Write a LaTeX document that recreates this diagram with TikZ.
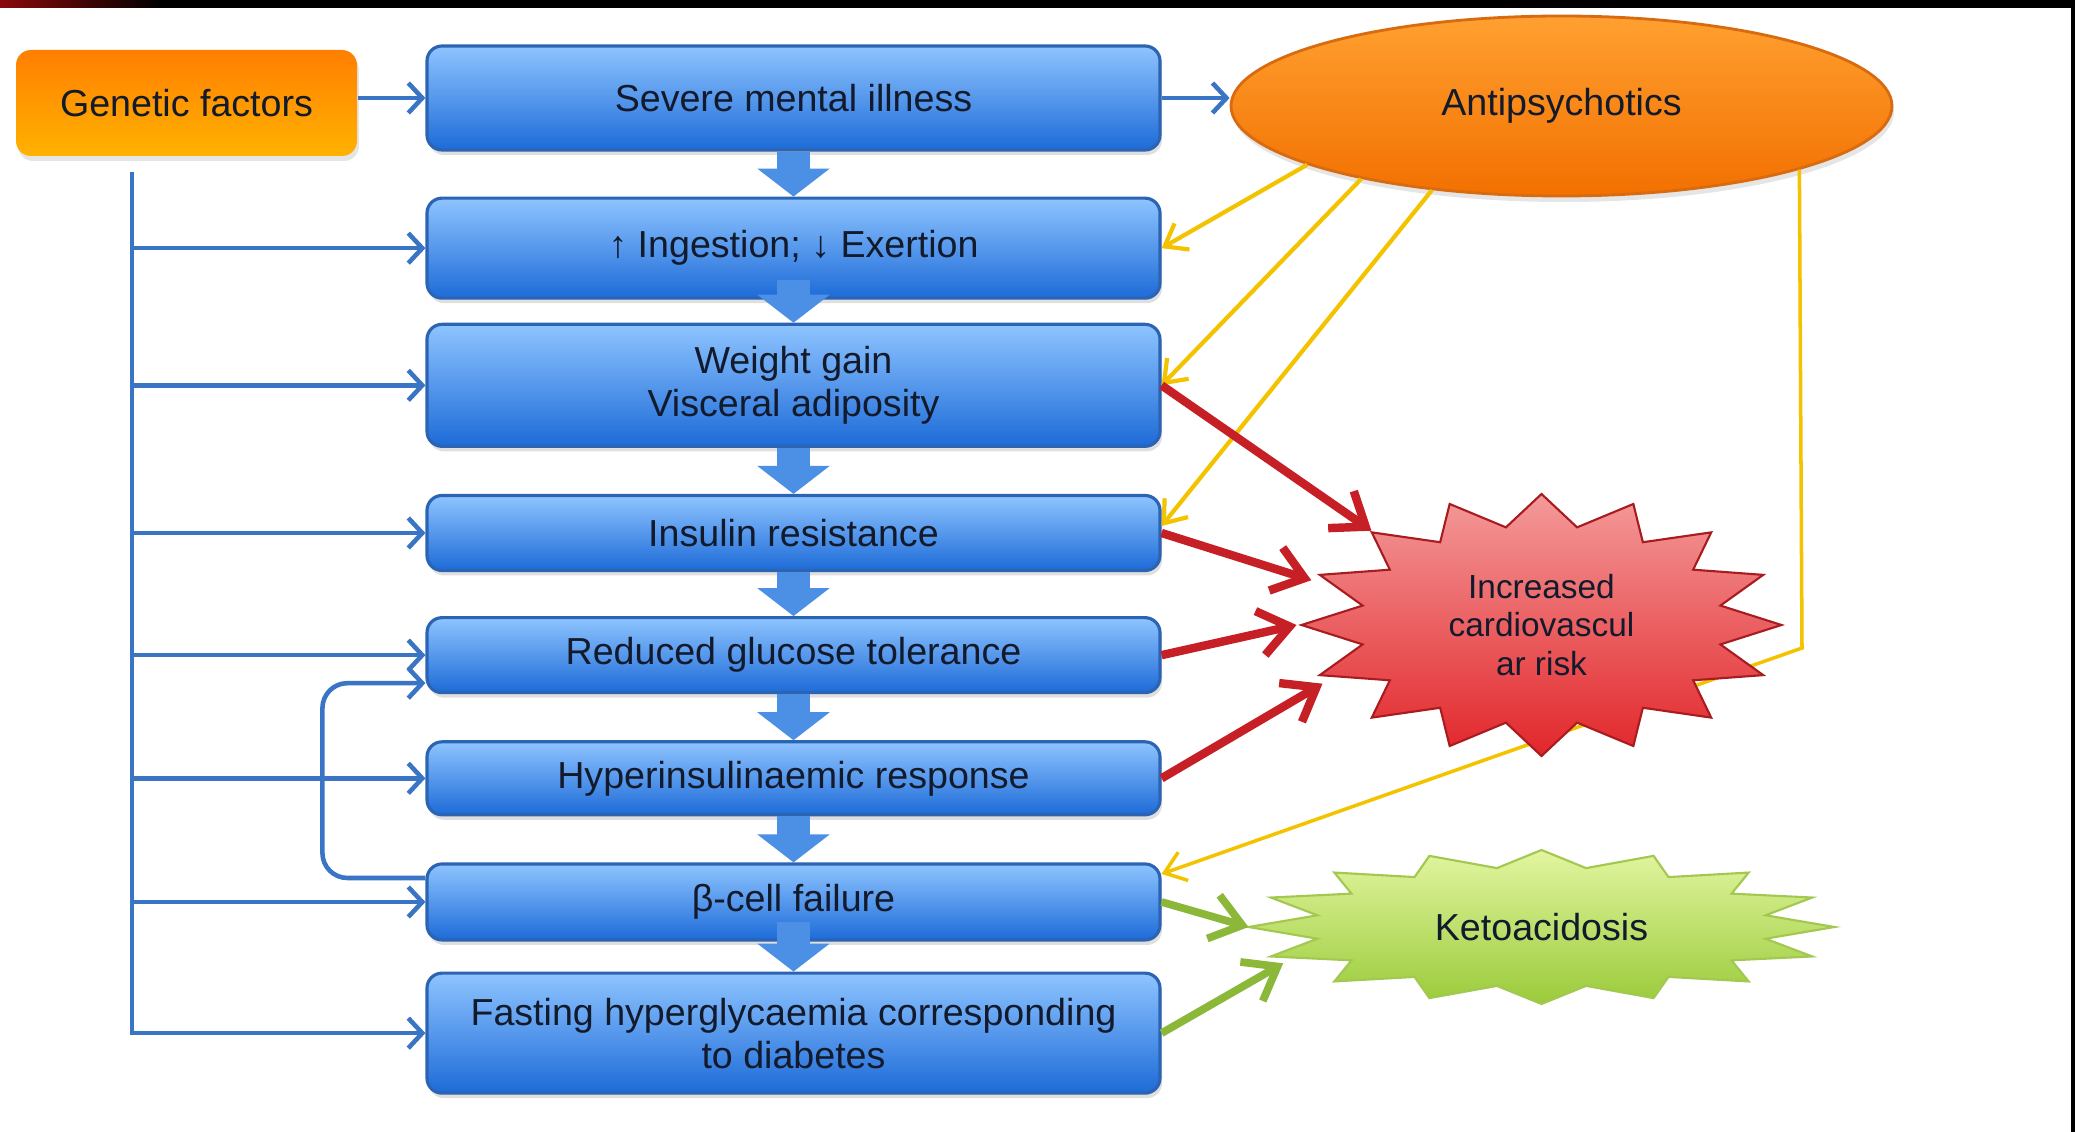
\documentclass[tikz,border=0pt]{standalone}
\usepackage{fontspec}
\setmainfont{Liberation Sans}
\usetikzlibrary{arrows.meta, positioning, shapes.geometric, shadows}

\definecolor{boxtop}{HTML}{8EC4FF}
\definecolor{boxbot}{HTML}{1D6BD8}
\definecolor{boxline}{HTML}{2C64B4}
\definecolor{linkblue}{HTML}{3A74C4}
\definecolor{blockblue}{HTML}{4C90E6}
\definecolor{gentop}{HTML}{FF7F00}
\definecolor{genbot}{HTML}{FFB200}
\definecolor{anttop}{HTML}{FFA030}
\definecolor{antbot}{HTML}{F27000}
\definecolor{antline}{HTML}{D86A10}
\definecolor{linkyellow}{HTML}{F4C300}
\definecolor{linkred}{HTML}{C62026}
\definecolor{linkgreen}{HTML}{8CB83A}
\definecolor{redtop}{HTML}{F49A9A}
\definecolor{redbot}{HTML}{E2262A}
\definecolor{redline}{HTML}{A81C20}
\definecolor{greentop}{HTML}{E2F5A0}
\definecolor{greenbot}{HTML}{9ACB3A}
\definecolor{greenline}{HTML}{A2C850}
\definecolor{inktext}{HTML}{121A2C}
\definecolor{darkred}{HTML}{8A0A0A}

\begin{document}
\begin{tikzpicture}[node distance=0.45cm, font=\fontsize{10.7}{12.2}\selectfont, text=inktext,
  stepbox/.style={draw=boxline, line width=0.9pt, rounded corners=0.15cm, top color=boxtop, bottom color=boxbot,
    minimum width=7.33cm, align=center, drop shadow={opacity=0.25, shadow xshift=0.02cm, shadow yshift=-0.05cm}},
  genbox/.style={rounded corners=0.15cm, top color=gentop, bottom color=genbot, minimum width=3.41cm, minimum height=1.06cm,
    drop shadow={opacity=0.2, shadow xshift=0.02cm, shadow yshift=-0.05cm}},
  flowarrow/.style={draw=blockblue, line width=0.33cm, -{Triangle[length=0.28cm, width=0.71cm]}},
  genlink/.style={draw=linkblue, line width=1.3pt, -{Straight Barb[length=0.14cm, width=0.3cm]}},
  drugline/.style={draw=linkyellow, line width=1.2pt, -{Straight Barb[length=0.2cm, width=0.3cm]}},
  riskline/.style={draw=linkred, line width=2.4pt, -{Straight Barb[length=0.3cm, width=0.45cm]}},
  ketoline/.style={draw=linkgreen, line width=2.2pt, -{Straight Barb[length=0.3cm, width=0.45cm]}},
  burst/.style={ellipse, minimum width=#1, inner sep=0pt, outer sep=0pt, align=center}]

\useasboundingbox (0,0) rectangle (20.75,-11.32);
\fill[white] (0,0) rectangle (20.75,-11.32);
\fill[black] (0,0) rectangle (20.75,-0.08);
\shade[left color=darkred, right color=black] (0,0) rectangle (1.6,-0.08);
\fill[black] (20.71,0) rectangle (20.75,-11.32);

\node[stepbox, minimum height=1.04cm] (b1) at (7.935,-0.98) {Severe mental illness};
\node[stepbox, minimum height=1.0cm, below=0.45cm of b1] (b2) {↑ Ingestion; ↓ Exertion};
\node[stepbox, minimum height=1.22cm, below=0.23cm of b2] (b3) {Weight gain\\Visceral adiposity};
\node[stepbox, minimum height=0.75cm, below=0.46cm of b3] (b4) {Insulin resistance};
\node[stepbox, minimum height=0.75cm, below=0.44cm of b4] (b5) {Reduced glucose tolerance};
\node[stepbox, minimum height=0.73cm, below=0.46cm of b5] (b6) {Hyperinsulinaemic response};
\node[stepbox, minimum height=0.76cm, below=0.46cm of b6] (b7) {β-cell failure};
\node[stepbox, minimum height=1.2cm, below=0.30cm of b7] (b8) {Fasting hyperglycaemia corresponding\\to diabetes};

\node[genbox] (gen) at (1.865,-1.03) {Genetic factors};
\node[ellipse, draw=antline, line width=0.8pt, top color=anttop, bottom color=antbot, minimum width=6.61cm, minimum height=1.8cm,
  drop shadow={opacity=0.2, shadow xshift=0.02cm, shadow yshift=-0.06cm}] (ant) at (15.615,-1.06) {Antipsychotics};

\draw[genlink] (gen.east |- b1.west) -- (b1.west);
\draw[genlink] (b1.east) -- (b1.east -| ant.west);
\coordinate (trunk) at (1.32,-1.72);
\draw[genlink] (trunk) |- (b8.west);
\foreach \k in {2,...,7}
  \draw[genlink] (trunk |- b\k.west) -- (b\k.west);
\draw[genlink, rounded corners=0.25cm] ([yshift=0.24cm]b7.west) -| ([xshift=-1.03cm, yshift=-0.28cm]b5.west) -- ([yshift=-0.28cm]b5.west);

\draw[flowarrow] (b1.south) -- (b2.north);
\draw[flowarrow] ([yshift=0.2cm]b2.south) -- (b3.north);
\foreach \k/\n in {3/4,4/5,5/6,6/7}
  \draw[flowarrow] (b\k.south) -- (b\n.north);
\draw[flowarrow] ([yshift=0.2cm]b7.south) -- (b8.north);

\draw[drugline] (ant.193) -- (b2.east);
\draw[drugline] (ant.200) -- (b3.east);
\draw[drugline] (ant.213) -- ([yshift=0.07cm]b4.east);
\coordinate (bend) at (18.02,-6.48);
\draw[drugline, line width=1pt] (ant.345) -- (bend) -- ([yshift=0.28cm]b7.east);

\coordinate (cvdc) at (15.415,-6.25);
\coordinate (ketoc) at (15.415,-9.27);
\begin{scope}[shift={(cvdc)}]
  \shadedraw[top color=redtop, bottom color=redbot, draw=redline, line width=0.6pt]
    plot[samples at={0,...,31}, variable=\k] ({2.40*(1-0.24*mod(\k,2))*cos(90+11.25*\k)}, {1.31*(1-0.24*mod(\k,2))*sin(90+11.25*\k)}) -- cycle;
\end{scope}
\begin{scope}[shift={(ketoc)}]
  \shadedraw[top color=greentop, bottom color=greenbot, draw=greenline, line width=0.6pt]
    plot[samples at={0,...,31}, variable=\k] ({2.93*(1-0.22*mod(\k,2))*cos(90+11.25*\k)}, {0.77*(1-0.22*mod(\k,2))*sin(90+11.25*\k)}) -- cycle;
\end{scope}
\node[burst=4.9cm, minimum height=2.62cm, font=\fontsize{9.5}{10.9}\selectfont] (cvd) at (cvdc) {Increased\\cardiovascul\\ar risk};
\node[burst=5.86cm, minimum height=1.54cm] (keto) at (ketoc) {Ketoacidosis};

\draw[riskline] (b3.east) -- (cvd.151);
\draw[riskline] (b4.east) -- (cvd.169);
\draw[riskline] (b5.east) -- (cvd.180);
\draw[riskline] (b6.east) -- (cvd.195);
\draw[ketoline] (b7.east) -- (keto.180);
\draw[ketoline] (b8.east) -- (keto.188);
\end{tikzpicture}
\end{document}
